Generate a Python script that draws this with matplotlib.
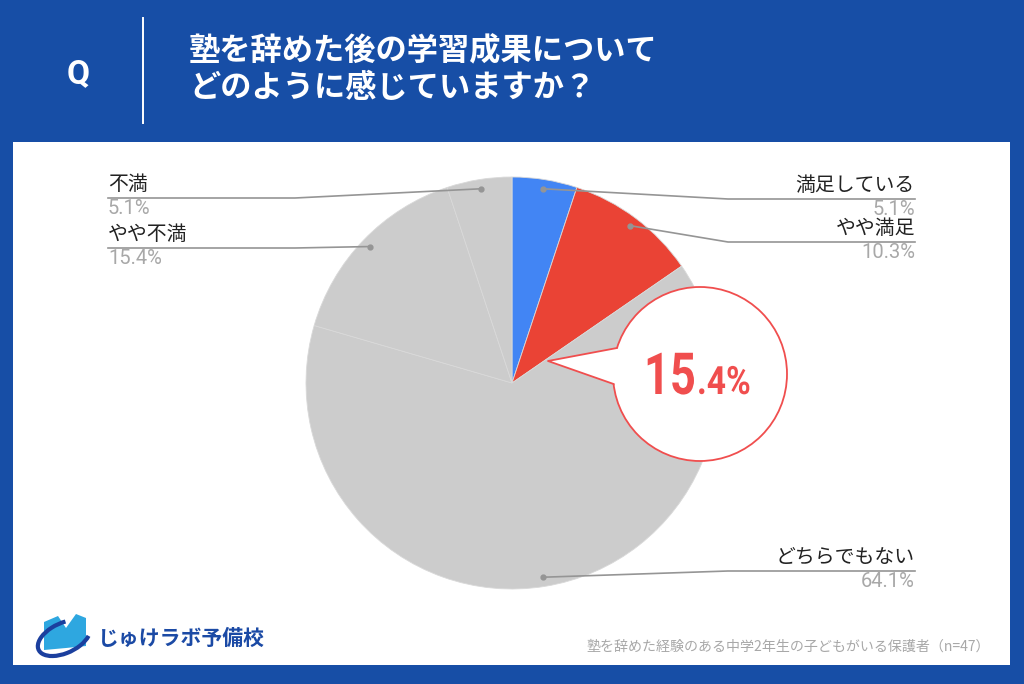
import numpy as np
import matplotlib
matplotlib.use("Agg")
import matplotlib.pyplot as plt
from matplotlib.patches import Rectangle, Circle, Polygon, Arc, PathPatch
from matplotlib.textpath import TextPath
from matplotlib.font_manager import FontProperties
from matplotlib.transforms import Affine2D

# --- data ---
labels = ["満足している", "やや満足", "どちらでもない", "やや不満", "不満"]
values = [5.1, 10.3, 64.1, 15.4, 5.1]
colors = ["#4285f4", "#ea4335", "#cccccc", "#cccccc", "#cccccc"]
title_lines = ["塾を辞めた後の学習成果について", "どのように感じていますか？"]
highlight_main = "15"
highlight_sub = ".4%"
footnote = "塾を辞めた経験のある中学2年生の子どもがいる保護者（n=47）"
brand = "じゅけラボ予備校"

JP = ["Noto Sans CJK JP", "DejaVu Sans"]
NUM = ["Roboto", "Noto Sans CJK JP"]

BG = "#174ea6"
LINE = "#959595"
RED = "#f04e4e"

fig = plt.figure(figsize=(10.24, 6.84), dpi=100, facecolor=BG)
ax = fig.add_axes([0, 0, 1, 1])
ax.set_facecolor(BG)

# white panel
ax.add_patch(Rectangle((13, 142), 997, 523, facecolor="white", edgecolor="none", zorder=0))

# header
ax.text(78, 74, "Q", color="white", fontsize=24, fontweight="bold",
        family=NUM, ha="center", va="center")
ax.plot([143, 143], [18, 123], color="white", lw=1.4)
for i, line in enumerate(title_lines):
    ax.text(189, 51 + i * 37, line, color="white", fontsize=22.5, fontweight="bold",
            family=JP, ha="left", va="center")

# pie (y axis is inverted, so counterclock in data = clockwise on screen)
cx, cy, R = 512, 383, 206
wedges, _ = ax.pie(values, colors=colors, startangle=270, counterclock=True,
                   center=(cx, cy), radius=R,
                   wedgeprops=dict(edgecolor="#d9d9d9", linewidth=0.6))

# leader lines + labels
cum = np.cumsum([0] + values[:-1])
mids = [(c + v / 2) / 100 * 360 for c, v in zip(cum, values)]
right_rows = {0: 199, 1: 242, 2: 571}
left_rows = {3: 248, 4: 198}
for i, ang in enumerate(mids):
    th = np.deg2rad(270 + ang)
    dx, dy = cx + 0.955 * R * np.cos(th), cy + 0.955 * R * np.sin(th)
    ax.plot(dx, dy, "o", color=LINE, ms=3.5, zorder=5)
    if i in right_rows:
        y, x, ha, elbow = right_rows[i], 915, "right", 728
    else:
        y, x, ha, elbow = left_rows[i], 108, "left", 295
    ax.plot([dx, elbow, x], [dy, y, y], color=LINE, lw=1.2, zorder=4)
    ax.text(x, y - 3, labels[i], family=JP, fontsize=14.3, color="#222222",
            ha=ha, va="bottom")
    ax.text(x, y + 1, f"{values[i]}%", family=NUM, fontsize=14.5, color="#a8a8a8",
            ha=ha, va="top")

# callout bubble
bx, by, br = 700, 374, 87
ax.add_patch(Circle((bx, by), br, facecolor="white", edgecolor=RED, lw=1.3, zorder=6))
tip = (548, 361)
p1, p2 = (617, 348), (613.6, 384)
ax.add_patch(Polygon([tip, p1, (630, 348), (630, 384), p2], closed=True,
                     facecolor="white", edgecolor="none", zorder=7))
ax.plot([p1[0], tip[0], p2[0]], [p1[1], tip[1], p2[1]], color=RED, lw=1.3, zorder=8)


def narrow_text(s, x, y, size, ha, sx=0.78):
    """Condensed bold text drawn as a path (baseline at y, screen y downward)."""
    tp = TextPath((0, 0), s, size=size, prop=FontProperties(family="Roboto", weight="bold"))
    w = tp.get_extents().x1 * sx
    x0 = x - w if ha == "right" else x
    tr = Affine2D().scale(sx, -1).translate(x0, y) + ax.transData
    ax.add_patch(PathPatch(tp, facecolor=RED, edgecolor="none", transform=tr, zorder=9))


narrow_text(highlight_main, 694, 394, 58, "right")
narrow_text(highlight_sub, 697, 394, 39, "left", sx=0.86)

# logo
ax.add_patch(Polygon([(44, 622), (58, 616), (66, 628), (66, 648), (44, 650)],
                     facecolor="#2ea7e0", edgecolor="none", zorder=3))
ax.add_patch(Polygon([(66, 628), (76, 614), (86, 618), (86, 646), (66, 648)],
                     facecolor="#2ea7e0", edgecolor="none", zorder=3))
ax.add_patch(Arc((64, 638), 56, 30, angle=-25, theta1=20, theta2=300,
                 color="#1b3f9e", lw=3, zorder=4))
ax.text(98, 638, brand, family=JP, fontweight="bold", fontsize=15,
        color="#1b4aa5", ha="left", va="center")

ax.text(990, 647, footnote, family=JP, fontsize=10.1, color="#a8a8a8",
        ha="right", va="center")

ax.set_xlim(0, 1024)
ax.set_ylim(684, 0)
ax.set_aspect("equal")
ax.axis("off")

fig.savefig("out.png", dpi=100, facecolor=BG)
